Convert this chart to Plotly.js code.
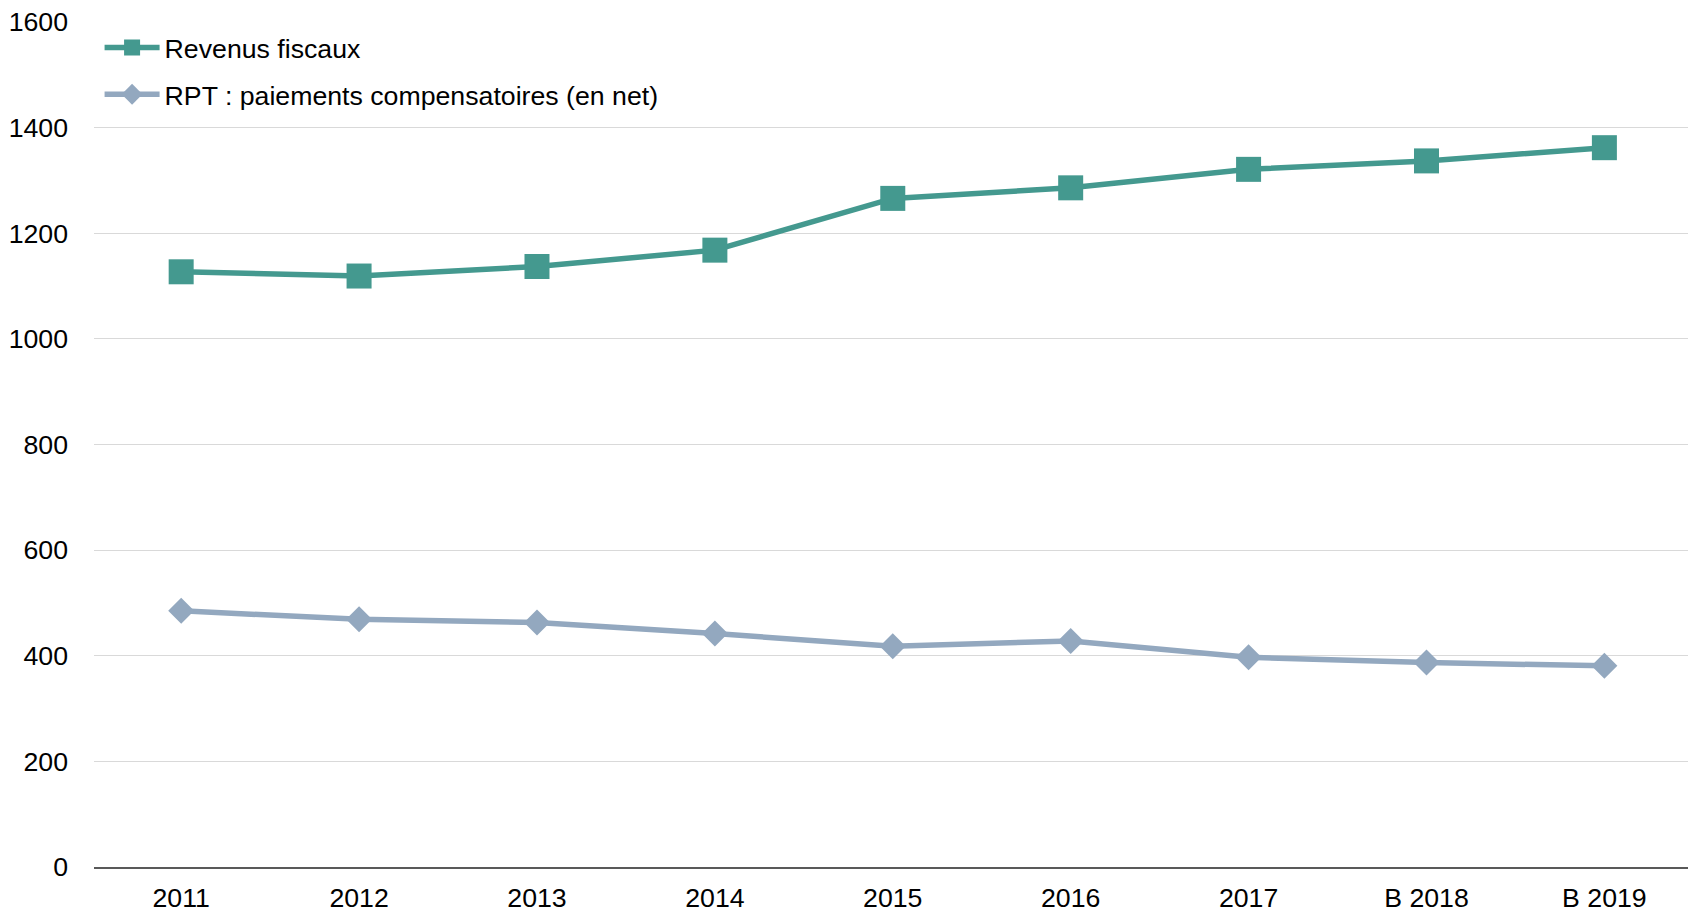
<!DOCTYPE html>
<html>
<head>
<meta charset="utf-8">
<script src="https://cdn.plot.ly/plotly-3.0.1.min.js"></script>
<style>
html,body{margin:0;padding:0;background:#fff;}
#chart{width:1688px;height:912px;}
</style>
</head>
<body>
<div id="chart"></div>
<script>
const categories = ["2011","2012","2013","2014","2015","2016","2017","B 2018","B 2019"];
const revenusFiscaux = [1127,1119,1137,1168,1266,1286,1321,1337,1362];
const rptPaiements = [485,469,463,442,418,428,397,387,381];
const seriesNames = ["Revenus fiscaux","RPT : paiements compensatoires (en net)"];
const yTicks = [0,200,400,600,800,1000,1200,1400,1600];

const traces = [
  {
    x: categories, y: revenusFiscaux, name: seriesNames[0], type: "scatter", mode: "lines+markers",
    legendgroup: "a",
    line: {color: "#44998F", width: 5.5},
    marker: {symbol: "square", size: 25, color: "#44998F"}
  },
  {
    x: categories, y: rptPaiements, name: seriesNames[1], type: "scatter", mode: "lines+markers",
    legendgroup: "b",
    line: {color: "#93A8BF", width: 5.5},
    marker: {symbol: "diamond", size: 20, color: "#93A8BF"}
  }
];

const layout = {
  width: 1688, height: 912,
  margin: {l: 94, r: 0, t: 22, b: 45},
  paper_bgcolor: "#fff", plot_bgcolor: "#fff",
  font: {family: "Liberation Sans, Arial, sans-serif", size: 26.7, color: "#000"},
  showlegend: true,
  legend: {
    x: 0.0035, y: 0.998, xanchor: "left", yanchor: "top",
    bgcolor: "rgba(0,0,0,0)", font: {size: 26.7, color: "#000"},
    itemsizing: "trace", itemwidth: 55, tracegroupgap: 9, traceorder: "grouped"
  },
  xaxis: {
    type: "category", range: [-0.49, 8.47],
    showgrid: false, showline: true, linecolor: "#595959", linewidth: 1.5,
    ticks: "", ticklabelstandoff: 6, zeroline: false, fixedrange: true
  },
  yaxis: {
    range: [0, 1600], tickvals: yTicks, showgrid: true, gridcolor: "#D9D9D9", gridwidth: 1,
    zeroline: false, showline: false, ticks: "", ticklabelstandoff: 25, fixedrange: true
  }
};

Plotly.newPlot("chart", traces, layout, {displayModeBar: false, staticPlot: true});
</script>
</body>
</html>
